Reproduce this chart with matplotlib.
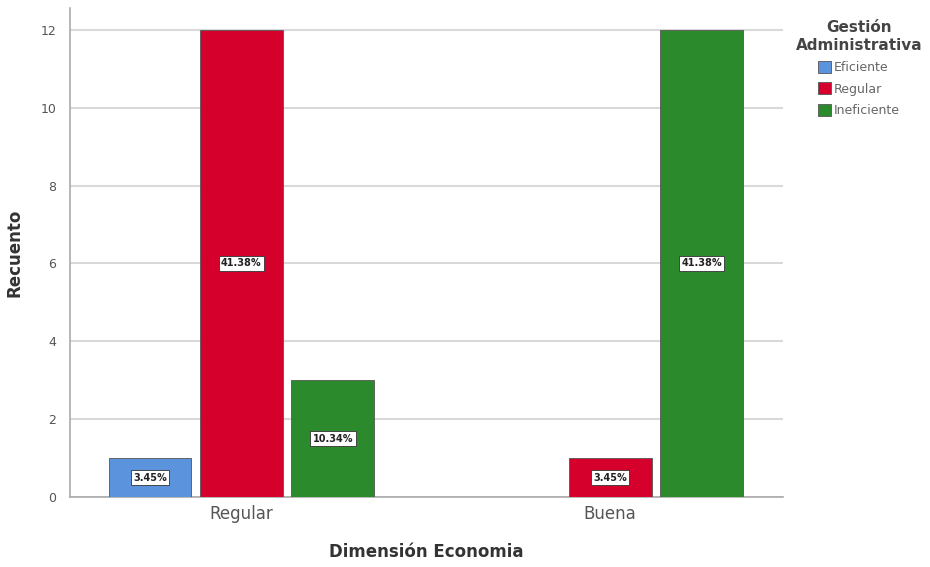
import numpy as np
import matplotlib.pyplot as plt

# data
groups = ["Regular", "Buena"]
series = ["Eficiente", "Regular", "Ineficiente"]
counts = {
    "Eficiente": [1, 0],
    "Regular": [12, 1],
    "Ineficiente": [3, 12],
}
pct_labels = {
    "Eficiente": ["3.45%", None],
    "Regular": ["41.38%", "3.45%"],
    "Ineficiente": ["10.34%", "41.38%"],
}
colors = {"Eficiente": "#5b94dc", "Regular": "#d6002c", "Ineficiente": "#2b8a2b"}

fig = plt.figure(figsize=(9.3, 5.67), dpi=100)
ax = fig.add_axes([70 / 930, 70 / 567, 713 / 930, 489 / 567])

x = np.arange(len(groups))
width = 0.225
step = 0.248
for i, s in enumerate(series):
    pos = x + (i - 1) * step
    vals = counts[s]
    bars = ax.bar(pos, vals, width, color=colors[s], edgecolor="#555555",
                  linewidth=0.6, label=s, zorder=3)
    for b, v, lab in zip(bars, vals, pct_labels[s]):
        if lab is None or v == 0:
            continue
        ax.text(b.get_x() + b.get_width() / 2, v / 2, lab, ha="center", va="center",
                fontsize=7, fontweight="bold", color="#222222", zorder=4,
                bbox=dict(boxstyle="square,pad=0.25", facecolor="white",
                          edgecolor="#333333", linewidth=0.6))

ax.set_xlim(-0.465, 1.469)
ax.set_ylim(0, 12.56)
ax.set_yticks(range(0, 13, 2))
ax.set_xticks(x)
ax.set_xticklabels(groups, fontsize=12, color="#555555")
ax.tick_params(axis="y", labelsize=9, colors="#555555", length=0, pad=10)
ax.tick_params(axis="x", length=0, pad=6)
ax.yaxis.grid(True, color="#d9d9d9", linewidth=1.5, zorder=0)
ax.set_axisbelow(True)
for sp in ["top", "right"]:
    ax.spines[sp].set_visible(False)
for sp in ["left", "bottom"]:
    ax.spines[sp].set_color("#aaaaaa")
    ax.spines[sp].set_linewidth(1.2)

ax.set_ylabel("Recuento", fontsize=12, fontweight="bold", color="#333333", labelpad=12)
ax.set_xlabel("Dimensión Economia", fontsize=12, fontweight="bold", color="#333333", labelpad=14)

leg = ax.legend(title="Gestión\nAdministrativa", loc="upper left",
                bbox_to_anchor=(1.0, 1.0), borderaxespad=0, borderpad=1.0,
                frameon=False, fontsize=9, handlelength=1.1, handleheight=1.1,
                handletextpad=0.2, labelspacing=0.65, labelcolor="#666666")
leg.get_title().set_fontweight("bold")
leg.get_title().set_fontsize(11)
leg.get_title().set_color("#444444")
leg.get_title().set_multialignment("center")

fig.savefig("out.png", dpi=100)
